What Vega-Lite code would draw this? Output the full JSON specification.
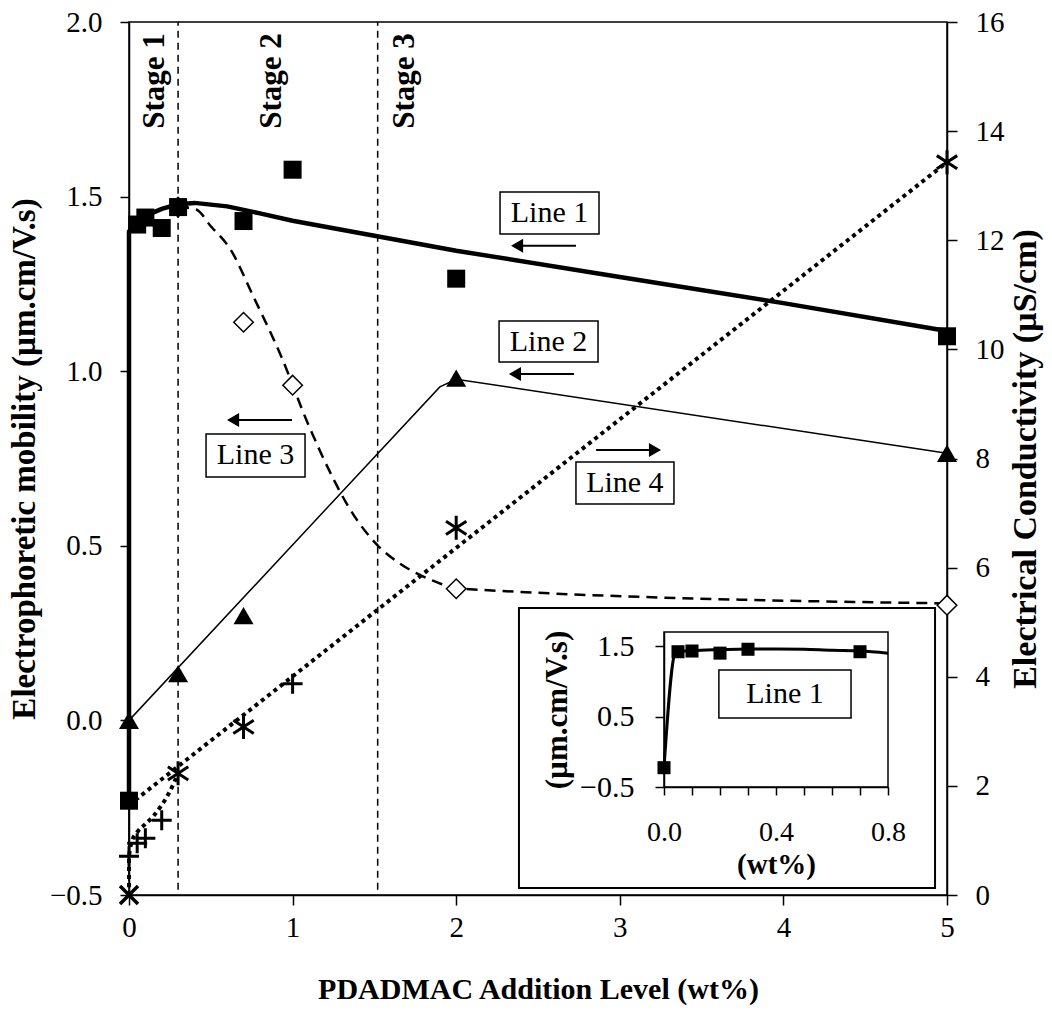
{
  "$schema": "https://vega.github.io/schema/vega-lite/v6.json",
  "width": 818,
  "height": 873,
  "autosize": {"type": "none"},
  "padding": {"left": 129, "top": 22, "right": 105, "bottom": 140},
  "background": "white",
  "config": {
    "font": "Liberation Serif",
    "view": {"stroke": "black", "strokeWidth": 1.5},
    "axis": {
      "grid": false,
      "domainColor": "black",
      "domainWidth": 1.5,
      "tickColor": "black",
      "tickWidth": 1.5,
      "labelColor": "black",
      "titleColor": "black",
      "labelFont": "Liberation Serif",
      "titleFont": "Liberation Serif",
      "labelFontSize": 29,
      "titleFontSize": 30,
      "titleFontWeight": "bold",
      "labelOverlap": false,
      "labelFlush": false
    },
    "text": {"font": "Liberation Serif", "color": "black"}
  },
  "datasets": {
    "stages": [
      {"x": 0.3, "y": -0.485, "y2": 2.0},
      {"x": 1.52, "y": -0.485, "y2": 2.0}
    ],
    "stagetext": [
      {"label": "Stage 1", "x": 0.159, "y": 1.968},
      {"label": "Stage 2", "x": 0.874, "y": 1.968},
      {"label": "Stage 3", "x": 1.687, "y": 1.968}
    ],
    "l1fit": [
      {"x": 0, "y": -0.24}, {"x": 0, "y": 1.40}, {"x": 0.05, "y": 1.43}, {"x": 0.1, "y": 1.445},
      {"x": 0.2, "y": 1.465}, {"x": 0.3, "y": 1.478}, {"x": 0.4, "y": 1.482}, {"x": 0.6, "y": 1.472},
      {"x": 0.8, "y": 1.452}, {"x": 1.0, "y": 1.431}, {"x": 1.5, "y": 1.388}, {"x": 2.0, "y": 1.345},
      {"x": 3.0, "y": 1.27}, {"x": 4.0, "y": 1.195}, {"x": 5.0, "y": 1.115}
    ],
    "l2fit": [
      {"x": 0, "y": -0.46}, {"x": 0, "y": 0.0}, {"x": 1.9, "y": 0.955}, {"x": 2.0, "y": 0.977}, {"x": 5.0, "y": 0.765}
    ],
    "l3fit": [
      {"x": 0.3, "y": 1.47}, {"x": 0.41, "y": 1.463}, {"x": 0.5, "y": 1.415}, {"x": 0.62, "y": 1.349},
      {"x": 0.76, "y": 1.214}, {"x": 0.93, "y": 1.043}, {"x": 1.09, "y": 0.854}, {"x": 1.25, "y": 0.691},
      {"x": 1.335, "y": 0.617}, {"x": 1.518, "y": 0.502}, {"x": 1.65, "y": 0.451}, {"x": 1.78, "y": 0.416},
      {"x": 1.88, "y": 0.396}, {"x": 2.0, "y": 0.378}, {"x": 5.0, "y": 0.335}
    ],
    "squares": [
      {"x": 0, "y": -0.23}, {"x": 0.05, "y": 1.42}, {"x": 0.1, "y": 1.44}, {"x": 0.2, "y": 1.41},
      {"x": 0.3, "y": 1.47}, {"x": 0.7, "y": 1.43}, {"x": 1.0, "y": 1.577}, {"x": 2.0, "y": 1.265}, {"x": 5.0, "y": 1.10}
    ],
    "triangles": [
      {"x": 0, "y": 0.0}, {"x": 0.3, "y": 0.134}, {"x": 0.7, "y": 0.30}, {"x": 2.0, "y": 0.98}, {"x": 5.0, "y": 0.765}
    ],
    "diamonds": [
      {"x": 0.3, "y": 1.47}, {"x": 0.7, "y": 1.14}, {"x": 1.0, "y": 0.96}, {"x": 2.0, "y": 0.377}, {"x": 5.0, "y": 0.33}
    ],
    "boxes": [
      {"x": 2.268, "x2": 2.873, "y": 1.393, "y2": 1.513},
      {"x": 2.262, "x2": 2.867, "y": 1.026, "y2": 1.144},
      {"x": 0.471, "x2": 1.076, "y": 0.697, "y2": 0.820},
      {"x": 2.732, "x2": 3.331, "y": 0.620, "y2": 0.740}
    ],
    "boxtext": [
      {"label": "Line 1", "x": 2.57, "y": 1.453},
      {"label": "Line 2", "x": 2.564, "y": 1.085},
      {"label": "Line 3", "x": 0.773, "y": 0.759},
      {"label": "Line 4", "x": 3.031, "y": 0.680}
    ],
    "arrows": [
      {"x": 2.372, "x2": 2.732, "y": 1.359, "dir": "left"},
      {"x": 2.359, "x2": 2.720, "y": 0.992, "dir": "left"},
      {"x": 0.636, "x2": 0.996, "y": 0.860, "dir": "left"},
      {"x": 3.215, "x2": 2.855, "y": 0.774, "dir": "right"}
    ],
    "l4fit": [
      {"x": 0, "y": 1.65}, {"x": 5.0, "y": 13.43}
    ],
    "l4curve": [
      {"x": 0, "y": 0.0}, {"x": 0, "y": 0.7}, {"x": 0.02, "y": 1.0}, {"x": 0.05, "y": 1.15},
      {"x": 0.1, "y": 1.3}, {"x": 0.15, "y": 1.45}, {"x": 0.2, "y": 1.65}, {"x": 0.25, "y": 1.9}, {"x": 0.3, "y": 2.23}
    ],
    "stars": [
      {"x": 0.3, "y": 2.23}, {"x": 0.7, "y": 3.08}, {"x": 2.0, "y": 6.73}, {"x": 5.0, "y": 13.43}
    ],
    "plus": [
      {"x": 0, "y": 0.71}, {"x": 0.05, "y": 0.95}, {"x": 0.1, "y": 1.04}, {"x": 0.2, "y": 1.37}, {"x": 1.0, "y": 3.87}
    ],
    "xmark": [
      {"x": 0, "y": 0.0}
    ],
    "insetbox": [
      {"x": -0.518, "x2": 0.968, "y": -1.934, "y2": 2.041}
    ],
    "insetframe": [
      {"x": 0, "x2": 0.8, "y": -0.5, "y2": 1.7}
    ],
    "insetline": [
      {"x": 0, "y": -0.23}, {"x": 0.04, "y": 1.40}, {"x": 0.05, "y": 1.42}, {"x": 0.1, "y": 1.435},
      {"x": 0.2, "y": 1.45}, {"x": 0.3, "y": 1.46}, {"x": 0.4, "y": 1.46}, {"x": 0.5, "y": 1.455},
      {"x": 0.6, "y": 1.44}, {"x": 0.7, "y": 1.43}, {"x": 0.8, "y": 1.40}
    ],
    "insetpts": [
      {"x": 0, "y": -0.226}, {"x": 0.05, "y": 1.42}, {"x": 0.1, "y": 1.43}, {"x": 0.2, "y": 1.40},
      {"x": 0.3, "y": 1.455}, {"x": 0.7, "y": 1.42}
    ],
    "insetlabelbox": [
      {"x": 0.196, "x2": 0.668, "y": 0.479, "y2": 1.161}
    ],
    "insetlabel": [
      {"label": "Line 1", "x": 0.432, "y": 0.82}
    ]
  },
  "layer": [
    {
      "encoding": {
        "x": {
          "field": "x", "type": "quantitative",
          "scale": {"domain": [0, 5], "nice": false, "zero": false},
          "axis": {"orient": "bottom", "values": [0, 1, 2, 3, 4, 5], "format": "d", "tickSize": 10, "labelPadding": 8, "titlePadding": 32, "title": "PDADMAC Addition Level (wt%)"}
        },
        "y": {
          "field": "y", "type": "quantitative",
          "scale": {"domain": [-0.5, 2.0], "nice": false, "zero": false},
          "axis": {"orient": "left", "values": [-0.5, 0, 0.5, 1, 1.5, 2], "format": ".1f", "tickSize": 9, "labelPadding": 18, "titlePadding": 8, "titleFontSize": 33, "title": "Electrophoretic mobility (µm.cm/V.s)"}
        }
      },
      "layer": [
        {"data": {"name": "stages"}, "mark": {"type": "rule", "color": "black", "strokeWidth": 1.5, "strokeDash": [7, 5]}, "encoding": {"y2": {"field": "y2"}}},
        {"data": {"name": "stagetext"}, "mark": {"type": "text", "angle": 270, "align": "right", "baseline": "middle", "fontSize": 31, "fontWeight": "bold", "font": "Liberation Serif", "color": "black"}, "encoding": {"text": {"field": "label"}}},
        {"data": {"name": "l2fit"}, "mark": {"type": "line", "color": "black", "strokeWidth": 1.5}, "encoding": {"order": {"value": null}}},
        {"data": {"name": "l3fit"}, "mark": {"type": "line", "color": "black", "strokeWidth": 2.5, "strokeDash": [11, 7], "interpolate": "monotone"}, "encoding": {"order": {"value": null}}},
        {"data": {"name": "l1fit"}, "mark": {"type": "line", "color": "black", "strokeWidth": 4.5}, "encoding": {"order": {"value": null}}},
        {"data": {"name": "diamonds"}, "mark": {"type": "point", "shape": "diamond", "size": 380, "filled": false, "fill": "white", "fillOpacity": 1, "stroke": "black", "strokeWidth": 1.5, "opacity": 1}},
        {"data": {"name": "triangles"}, "mark": {"type": "point", "shape": "triangle-up", "size": 400, "filled": true, "color": "black", "opacity": 1}},
        {"data": {"name": "squares"}, "mark": {"type": "point", "shape": "square", "size": 324, "filled": true, "color": "black", "opacity": 1}},
        {"data": {"name": "boxes"}, "mark": {"type": "rect", "fill": "white", "stroke": "black", "strokeWidth": 1.5}, "encoding": {"x2": {"field": "x2"}, "y2": {"field": "y2"}}},
        {"data": {"name": "boxtext"}, "mark": {"type": "text", "align": "center", "baseline": "middle", "fontSize": 30, "font": "Liberation Serif", "color": "black"}, "encoding": {"text": {"field": "label"}}},
        {"data": {"name": "arrows"}, "mark": {"type": "rule", "color": "black", "strokeWidth": 2}, "encoding": {"x2": {"field": "x2"}}},
        {"data": {"name": "arrows"}, "mark": {"type": "point", "size": 196, "filled": true, "color": "black", "opacity": 1}, "encoding": {"shape": {"field": "dir", "type": "nominal", "scale": {"domain": ["left", "right"], "range": ["triangle-left", "triangle-right"]}, "legend": null}}}
      ]
    },
    {
      "encoding": {
        "x": {
          "field": "x", "type": "quantitative",
          "scale": {"domain": [0, 5], "nice": false, "zero": false},
          "axis": null
        },
        "y": {
          "field": "y", "type": "quantitative",
          "scale": {"domain": [0, 16], "nice": false, "zero": false},
          "axis": {"orient": "right", "values": [0, 2, 4, 6, 8, 10, 12, 14, 16], "format": "d", "tickSize": 10, "labelPadding": 18, "titlePadding": 4, "titleFontSize": 34, "titleAngle": 270, "titleBaseline": "top", "title": "Electrical Conductivity (µS/cm)"}
        }
      },
      "layer": [
        {"data": {"name": "l4fit"}, "mark": {"type": "line", "color": "black", "strokeWidth": 4, "strokeDash": [4, 4], "strokeCap": "butt"}, "encoding": {"order": {"value": null}}},
        {"data": {"name": "l4curve"}, "mark": {"type": "line", "color": "black", "strokeWidth": 4, "strokeDash": [4, 4], "strokeCap": "butt", "interpolate": "monotone"}, "encoding": {"order": {"value": null}}},
        {"data": {"name": "stars"}, "mark": {"type": "point", "shape": "M0,-1L0,1M-0.85,-0.55L0.85,0.55M-0.85,0.55L0.85,-0.55", "size": 576, "filled": false, "stroke": "black", "strokeWidth": 3, "opacity": 1}},
        {"data": {"name": "plus"}, "mark": {"type": "point", "shape": "M-1,0L1,0M0,-1L0,1", "size": 400, "filled": false, "stroke": "black", "strokeWidth": 3, "opacity": 1}},
        {"data": {"name": "xmark"}, "mark": {"type": "point", "shape": "M-1,-1L1,1M-1,1L1,-1", "size": 324, "filled": false, "stroke": "black", "strokeWidth": 3.5, "opacity": 1}}
      ]
    },
    {
      "encoding": {
        "x": {
          "field": "x", "type": "quantitative",
          "scale": {"domain": [0, 0.8], "range": [535, 759], "nice": false, "zero": false},
          "axis": {"orient": "bottom", "offset": -108, "zindex": 2, "values": [0, 0.1, 0.2, 0.3, 0.4, 0.5, 0.6, 0.7, 0.8], "labelExpr": "abs((datum.value * 10) % 4) < 0.01 ? format(datum.value, '.1f') : ''", "tickSize": 8, "labelPadding": 23, "labelFontSize": 28, "titlePadding": 4, "titleFontSize": 29, "title": "(wt%)"}
        },
        "y": {
          "field": "y", "type": "quantitative",
          "scale": {"domain": [-0.5, 1.7], "range": [765, 610], "nice": false, "zero": false},
          "axis": {"orient": "left", "offset": -535, "zindex": 2, "values": [-0.5, 0.5, 1.5], "format": ".1f", "tickSize": 9, "labelPadding": 21, "labelFontSize": 30, "titlePadding": 6, "titleFontSize": 31, "title": "(µm.cm/V.s)"}
        }
      },
      "layer": [
        {"data": {"name": "insetbox"}, "mark": {"type": "rect", "fill": "white", "stroke": "black", "strokeWidth": 2}, "encoding": {"x2": {"field": "x2"}, "y2": {"field": "y2"}}},
        {"data": {"name": "insetframe"}, "mark": {"type": "rect", "fill": null, "fillOpacity": 0, "stroke": "black", "strokeWidth": 1.5}, "encoding": {"x2": {"field": "x2"}, "y2": {"field": "y2"}}},
        {"data": {"name": "insetline"}, "mark": {"type": "line", "color": "black", "strokeWidth": 3, "interpolate": "monotone"}, "encoding": {"order": {"value": null}}},
        {"data": {"name": "insetpts"}, "mark": {"type": "point", "shape": "square", "size": 170, "filled": true, "color": "black", "opacity": 1}},
        {"data": {"name": "insetlabelbox"}, "mark": {"type": "rect", "fill": "white", "stroke": "black", "strokeWidth": 1.5}, "encoding": {"x2": {"field": "x2"}, "y2": {"field": "y2"}}},
        {"data": {"name": "insetlabel"}, "mark": {"type": "text", "align": "center", "baseline": "middle", "fontSize": 30, "font": "Liberation Serif", "color": "black"}, "encoding": {"text": {"field": "label"}}}
      ]
    }
  ],
  "resolve": {"scale": {"x": "independent", "y": "independent"}}
}
